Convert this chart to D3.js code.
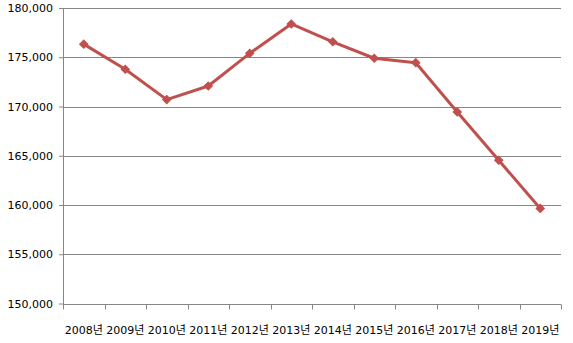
<!DOCTYPE html>
<html>
<head>
<meta charset="utf-8">
<script src="https://cdn.jsdelivr.net/npm/d3@7"></script>
<style>
  body { margin: 0; background: #fff; }
  text { font-family: "DejaVu Sans", "Noto Sans CJK KR", sans-serif; font-size: 11px; fill: #000; }
</style>
</head>
<body>
<script>
// categories and values
const years = ["2008년", "2009년", "2010년", "2011년", "2012년", "2013년",
               "2014년", "2015년", "2016년", "2017년", "2018년", "2019년"];
const values = [176330, 173780, 170700, 172080, 175400, 178380,
                176570, 174900, 174450, 169450, 164540, 159650];
const yTicks = [150000, 155000, 160000, 165000, 170000, 175000, 180000];

const width = 573, height = 343;
const margin = { top: 8, right: 12, bottom: 40, left: 63 };

const svg = d3.select("body").append("svg")
    .attr("width", width)
    .attr("height", height);

const x = d3.scaleBand()
    .domain(years)
    .range([margin.left, width - margin.right]);

const y = d3.scaleLinear()
    .domain([150000, 180000])
    .range([height - margin.bottom + 0.5, margin.top]);

const gridColor = "#868686";

// horizontal gridlines + y labels
const yAxis = svg.append("g")
    .attr("transform", "translate(" + margin.left + ",0)")
    .call(d3.axisLeft(y).tickValues(yTicks).tickSize(4).tickPadding(6)
        .tickFormat(d3.format(",")));
yAxis.select(".domain").remove();
yAxis.selectAll(".tick line").attr("stroke", gridColor);

svg.append("g").selectAll("line")
    .data(yTicks.slice(1))
    .enter().append("line")
    .attr("x1", margin.left)
    .attr("x2", width - margin.right)
    .attr("y1", d => Math.round(y(d)) + 0.5)
    .attr("y2", d => Math.round(y(d)) + 0.5)
    .attr("stroke", gridColor)
    .attr("stroke-width", 1);

// y axis line
svg.append("line")
    .attr("x1", margin.left + 0.5).attr("x2", margin.left + 0.5)
    .attr("y1", margin.top).attr("y2", Math.round(y(150000)) + 0.5)
    .attr("stroke", gridColor);

// x axis with ticks at band edges
const xEdges = years.map(d => x(d)).concat([width - margin.right]);
const baseY = Math.round(y(150000)) + 0.5;
svg.append("line")
    .attr("x1", margin.left).attr("x2", width - margin.right)
    .attr("y1", baseY).attr("y2", baseY)
    .attr("stroke", gridColor);
svg.append("g").selectAll("line")
    .data(xEdges)
    .enter().append("line")
    .attr("x1", d => Math.round(d) + 0.5)
    .attr("x2", d => Math.round(d) + 0.5)
    .attr("y1", baseY).attr("y2", baseY + 5)
    .attr("stroke", gridColor);

svg.append("g").selectAll("text")
    .data(years)
    .enter().append("text")
    .attr("x", d => x(d) + x.bandwidth() / 2)
    .attr("y", baseY + 29)
    .attr("text-anchor", "middle")
    .text(d => d);

// the series
const cx = (d, i) => x(years[i]) + x.bandwidth() / 2;
const line = d3.line()
    .x((d, i) => cx(d, i))
    .y(d => y(d));

svg.append("path")
    .datum(values)
    .attr("fill", "none")
    .attr("stroke", "#C0504D")
    .attr("stroke-width", 3)
    .attr("stroke-linejoin", "round")
    .attr("d", line);

// square markers turned 45 degrees
svg.append("g").selectAll("path")
    .data(values)
    .enter().append("path")
    .attr("d", d3.symbol().type(d3.symbolSquare).size(34))
    .attr("transform", (d, i) => "translate(" + cx(d, i) + "," + y(d) + ") rotate(45)")
    .attr("fill", "#C0504D")
    .attr("stroke", "#C0504D")
    .attr("stroke-width", 1);
</script>
</body>
</html>
